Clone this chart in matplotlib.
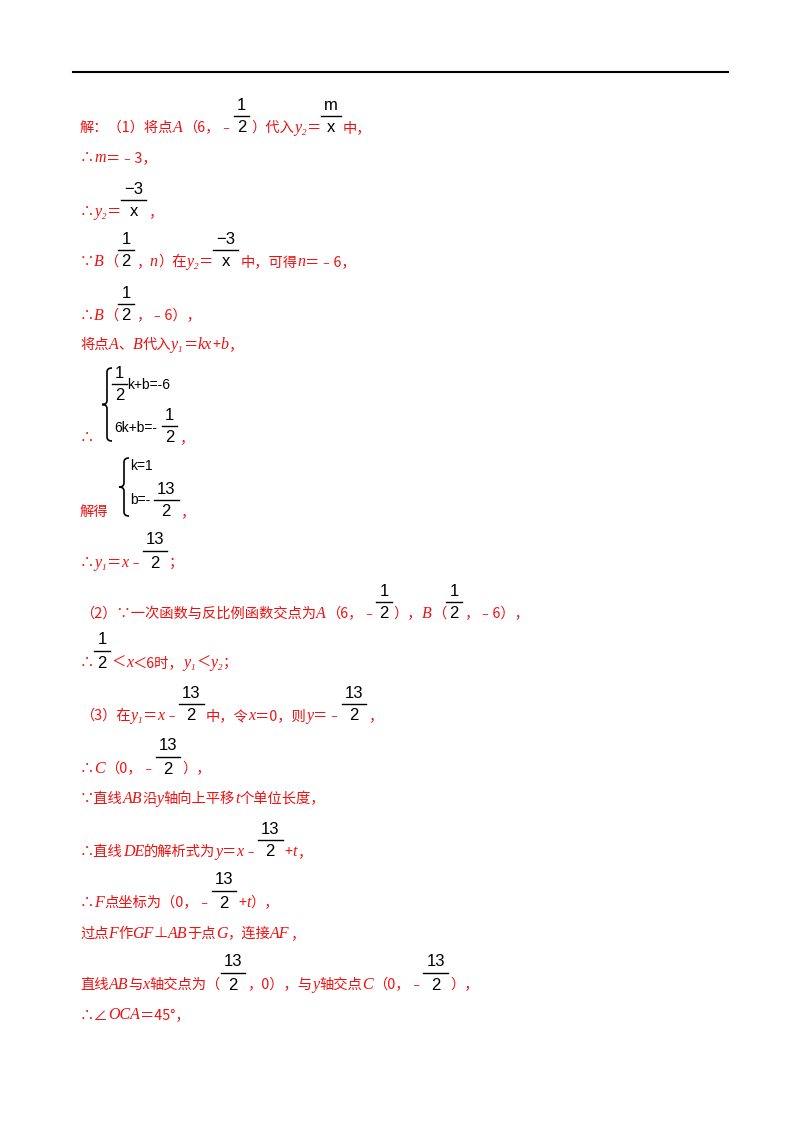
import matplotlib
matplotlib.use("Agg")
import matplotlib.pyplot as plt
from matplotlib.path import Path
from matplotlib.patches import PathPatch

RED = "#ee1111"
CJK = ["Noto Sans CJK SC", "DejaVu Sans"]
ITA = ["Liberation Serif", "DejaVu Serif"]
NUM = ["Liberation Sans", "DejaVu Sans"]

# each line: (centre y, segments); t=text, i=italic, f=fraction (num, den)
line_y = [128, 158, 212, 262, 316, 345, 438, 512, 563, 614, 663, 716, 769, 799, 852, 903, 934, 985, 1015]
lines = [
    [("t", "解：（1）将点"), ("i", "A"), ("t", "（6，﹣"), ("f", "1", "2"), ("t", "）代入"), ("i", "y₂"), ("t", "＝"), ("f", "m", "x"), ("t", "中，")],
    [("t", "∴"), ("i", "m"), ("t", "＝﹣3，")],
    [("t", "∴"), ("i", "y₂"), ("t", "＝"), ("f", "−3", "x"), ("t", "，")],
    [("t", "∵"), ("i", "B"), ("t", "（"), ("f", "1", "2"), ("t", "，"), ("i", "n"), ("t", "）在"), ("i", "y₂"), ("t", "＝"), ("f", "−3", "x"), ("t", "中，可得"), ("i", "n"), ("t", "＝﹣6，")],
    [("t", "∴"), ("i", "B"), ("t", "（"), ("f", "1", "2"), ("t", "，﹣6），")],
    [("t", "将点"), ("i", "A"), ("t", "、"), ("i", "B"), ("t", "代入"), ("i", "y₁"), ("t", "＝"), ("i", "kx"), ("t", "+"), ("i", "b"), ("t", "，")],
    [("t", "∴")],
    [("t", "解得")],
    [("t", "∴"), ("i", "y₁"), ("t", "＝"), ("i", "x"), ("t", "﹣"), ("f", "13", "2"), ("t", "；")],
    [("t", "（2）∵一次函数与反比例函数交点为"), ("i", "A"), ("t", "（6，﹣"), ("f", "1", "2"), ("t", "），"), ("i", "B"), ("t", "（"), ("f", "1", "2"), ("t", "，﹣6），")],
    [("t", "∴"), ("f", "1", "2"), ("t", "＜"), ("i", "x"), ("t", "＜6时，"), ("i", "y₁"), ("t", "＜"), ("i", "y₂"), ("t", "；")],
    [("t", "（3）在"), ("i", "y₁"), ("t", "＝"), ("i", "x"), ("t", "﹣"), ("f", "13", "2"), ("t", "中，令"), ("i", "x"), ("t", "＝0，则"), ("i", "y"), ("t", "＝﹣"), ("f", "13", "2"), ("t", "，")],
    [("t", "∴"), ("i", "C"), ("t", "（0，﹣"), ("f", "13", "2"), ("t", "），")],
    [("t", "∵直线"), ("i", "AB"), ("t", "沿"), ("i", "y"), ("t", "轴向上平移"), ("i", "t"), ("t", "个单位长度，")],
    [("t", "∴直线"), ("i", "DE"), ("t", "的解析式为"), ("i", "y"), ("t", "＝"), ("i", "x"), ("t", "﹣"), ("f", "13", "2"), ("t", "+"), ("i", "t"), ("t", "，")],
    [("t", "∴"), ("i", "F"), ("t", "点坐标为（0，﹣"), ("f", "13", "2"), ("t", "+"), ("i", "t"), ("t", "），")],
    [("t", "过点"), ("i", "F"), ("t", "作"), ("i", "GF"), ("t", "⊥"), ("i", "AB"), ("t", "于点"), ("i", "G"), ("t", "，连接"), ("i", "AF"), ("t", "，")],
    [("t", "直线"), ("i", "AB"), ("t", "与"), ("i", "x"), ("t", "轴交点为（"), ("f", "13", "2"), ("t", "，0），与"), ("i", "y"), ("t", "轴交点"), ("i", "C"), ("t", "（0，﹣"), ("f", "13", "2"), ("t", "），")],
    [("t", "∴∠"), ("i", "OCA"), ("t", "＝45°，")],
]

fig = plt.figure(figsize=(8, 11.32), dpi=100)
ax = fig.add_axes([0, 0, 1, 1])
ax.set_xlim(0, 800)
ax.set_ylim(1132, 0)
ax.axis("off")
r = fig.canvas.get_renderer()

ax.plot([73, 728], [72, 72], color="black", lw=1.5)


def put(x, y, s, fam, color=RED, size=10.3, style="normal"):
    t = ax.text(x, y, s, family=fam, color=color, fontsize=size, style=style, va="center", ha="left")
    return t.get_window_extent(r).width


def width(s, fam, size):
    t = ax.text(0, 0, s, family=fam, fontsize=size)
    w = t.get_window_extent(r).width
    t.remove()
    return w


def frac(x, y, num, den):
    w = max(width(num, NUM, 12), width(den, NUM, 12)) + 6
    ax.text(x + w / 2, y - 23, num, family=NUM, color="black", fontsize=12, ha="center", va="center")
    ax.text(x + w / 2, y, den, family=NUM, color="black", fontsize=12, ha="center", va="center")
    ax.plot([x, x + w], [y - 12, y - 12], color="black", lw=1)
    return w + 2


def brace(x, y0, y1):
    m = (y0 + y1) / 2
    d = 5
    verts = [(x + d, y0), (x, y0), (x, y0 + 4), (x, m - 4), (x, m), (x - d, m),
             (x, m), (x, m + 4), (x, y1 - 4), (x, y1), (x + d, y1)]
    codes = [Path.MOVETO, Path.CURVE3, Path.CURVE3, Path.LINETO, Path.CURVE3, Path.CURVE3,
             Path.CURVE3, Path.CURVE3, Path.LINETO, Path.CURVE3, Path.CURVE3]
    ax.add_patch(PathPatch(Path(verts, codes), fill=False, lw=1.2, color="black"))


for y, segs in zip(line_y, lines):
    x = 80
    for s in segs:
        if s[0] == "t":
            x += put(x, y, s[1], CJK)
        elif s[0] == "i":
            x += put(x, y, s[1], ITA, size=11.5, style="italic")
        else:
            x += frac(x, y, s[1], s[2])

# system of equations 1
brace(107, 368, 441)
w = frac(112, 396, "1", "2")
ax.text(112 + w - 2, 385, "k+b=-6", family=NUM, fontsize=10, va="center")
ax.text(114, 428, "6k+b=-", family=NUM, fontsize=10, va="center")
w = frac(162, 438, "1", "2")
put(162 + w, 438, "，", CJK)

# system of equations 2
brace(124, 458, 516)
ax.text(130, 466, "k=1", family=NUM, fontsize=10, va="center")
ax.text(130, 500, "b=-", family=NUM, fontsize=10, va="center")
w = frac(154, 512, "13", "2")
put(154 + w, 512, "，", CJK)

fig.savefig("out.png", dpi=100)
